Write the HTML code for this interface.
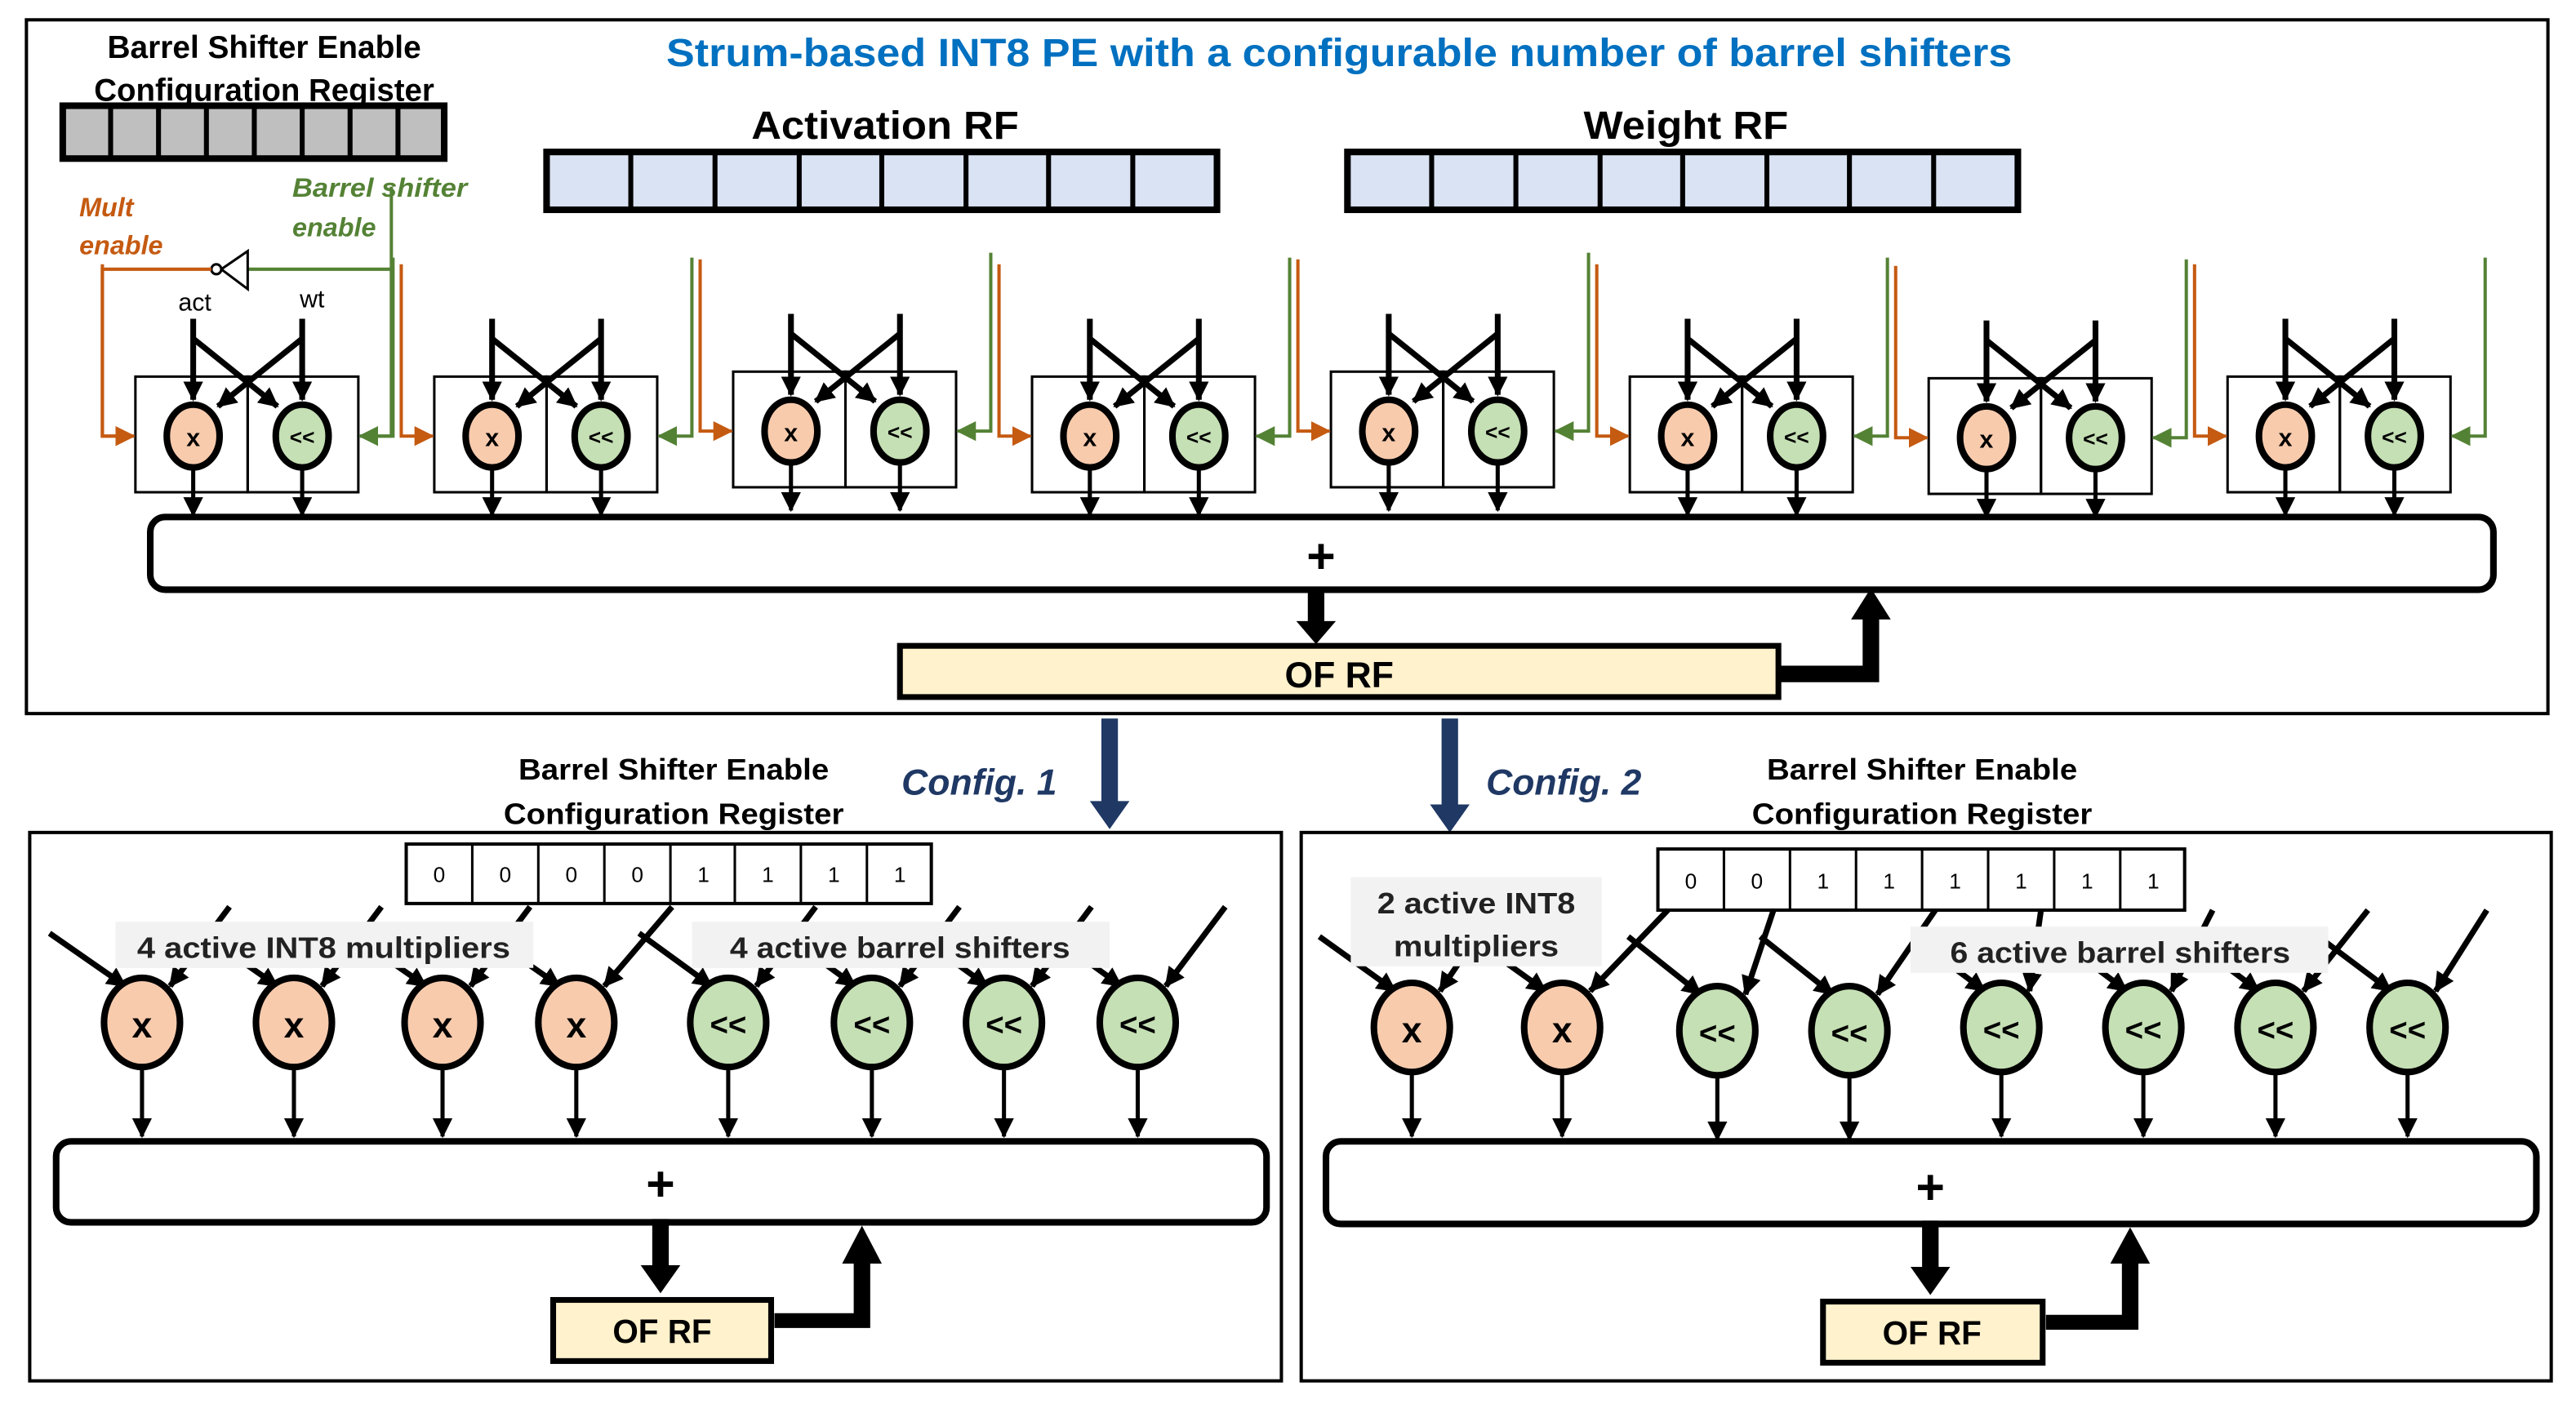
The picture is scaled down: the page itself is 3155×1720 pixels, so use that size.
<!DOCTYPE html>
<html><head><meta charset="utf-8"><style>
html,body{margin:0;padding:0;background:#fff}
svg{display:block}
text{font-family:"Liberation Sans",sans-serif}
</style></head><body>
<svg width="3155" height="1720" viewBox="0 0 1560 850" preserveAspectRatio="none" xmlns="http://www.w3.org/2000/svg">
<defs>
<marker id="ab" markerUnits="userSpaceOnUse" markerWidth="12" markerHeight="14" refX="11" refY="6" orient="auto"><path d="M0,0 L12,6 L0,12 z" fill="#000"/></marker>
<marker id="ao" markerUnits="userSpaceOnUse" markerWidth="12" markerHeight="14" refX="11" refY="6" orient="auto"><path d="M0,0 L12,6 L0,12 z" fill="#c55a11"/></marker>
<marker id="ag" markerUnits="userSpaceOnUse" markerWidth="12" markerHeight="14" refX="11" refY="6" orient="auto"><path d="M0,0 L12,6 L0,12 z" fill="#548235"/></marker>
<g id="unit">
<rect x="0" y="228" width="68" height="70" fill="none" stroke="#000" stroke-width="1.5"/>
<rect x="68" y="228" width="67" height="70" fill="none" stroke="#000" stroke-width="1.5"/>
<g stroke="#000" stroke-width="3.5" fill="none">
<line x1="35" y1="193" x2="35" y2="242" marker-end="url(#ab)"/>
<line x1="101" y1="193" x2="101" y2="242" marker-end="url(#ab)"/>
<line x1="35" y1="205" x2="86" y2="246" marker-end="url(#ab)"/>
<line x1="101" y1="205" x2="50" y2="246" marker-end="url(#ab)"/>
</g>
<g stroke="#000" stroke-width="2.5">
<line x1="35" y1="284" x2="35" y2="312" marker-end="url(#ab)"/>
<line x1="101" y1="284" x2="101" y2="312" marker-end="url(#ab)"/>
</g>
<ellipse cx="35" cy="264" rx="16" ry="19" fill="#f8cbad" stroke="#000" stroke-width="4"/>
<ellipse cx="101" cy="264" rx="16" ry="19" fill="#c5e0b4" stroke="#000" stroke-width="4"/>
<path d="M-20,160 V264 H-1" fill="none" stroke="#c55a11" stroke-width="2" marker-end="url(#ao)"/>
<path d="M156,156 V264 H136" fill="none" stroke="#548235" stroke-width="2" marker-end="url(#ag)"/>
</g>
</defs>

<rect x="16" y="12" width="1527" height="420" fill="none" stroke="#000" stroke-width="2"/>
<text x="811" y="40" text-anchor="middle" font-size="24" font-weight="bold" fill="#0070c0" textLength="815" lengthAdjust="spacingAndGlyphs">Strum-based INT8 PE with a configurable number of barrel shifters</text>
<text x="160" y="35" text-anchor="middle" font-size="19" font-weight="bold" textLength="190" lengthAdjust="spacingAndGlyphs">Barrel Shifter Enable</text>
<text x="160" y="61" text-anchor="middle" font-size="19" font-weight="bold" textLength="206" lengthAdjust="spacingAndGlyphs">Configuration Register</text>
<rect x="38" y="64" width="231" height="32" stroke="#000" stroke-width="4" fill="#bfbfbf"/>
<g stroke="#000" stroke-width="3">
<line x1="67" y1="64" x2="67" y2="96"/><line x1="96" y1="64" x2="96" y2="96"/><line x1="125" y1="64" x2="125" y2="96"/><line x1="154" y1="64" x2="154" y2="96"/><line x1="183" y1="64" x2="183" y2="96"/><line x1="212" y1="64" x2="212" y2="96"/><line x1="241" y1="64" x2="241" y2="96"/>
</g>
<text x="536" y="84" text-anchor="middle" font-size="24" font-weight="bold" textLength="162" lengthAdjust="spacingAndGlyphs">Activation RF</text>
<text x="1021" y="84" text-anchor="middle" font-size="24" font-weight="bold" textLength="124" lengthAdjust="spacingAndGlyphs">Weight RF</text>
<rect x="331" y="92" width="406" height="35" fill="#dae3f3" stroke="#000" stroke-width="4"/>
<g stroke="#000" stroke-width="3">
<line x1="382" y1="92" x2="382" y2="127"/><line x1="433" y1="92" x2="433" y2="127"/><line x1="484" y1="92" x2="484" y2="127"/><line x1="534" y1="92" x2="534" y2="127"/><line x1="585" y1="92" x2="585" y2="127"/><line x1="635" y1="92" x2="635" y2="127"/><line x1="686" y1="92" x2="686" y2="127"/>
</g>
<rect x="816" y="92" width="406" height="35" fill="#dae3f3" stroke="#000" stroke-width="4"/>
<g stroke="#000" stroke-width="3">
<line x1="867" y1="92" x2="867" y2="127"/><line x1="918" y1="92" x2="918" y2="127"/><line x1="969" y1="92" x2="969" y2="127"/><line x1="1019" y1="92" x2="1019" y2="127"/><line x1="1070" y1="92" x2="1070" y2="127"/><line x1="1120" y1="92" x2="1120" y2="127"/><line x1="1171" y1="92" x2="1171" y2="127"/>
</g>

<text x="48" y="131" font-size="16" font-style="italic" font-weight="bold" fill="#c55a11">Mult</text>
<text x="48" y="154" font-size="16" font-style="italic" font-weight="bold" fill="#c55a11">enable</text>
<text x="177" y="119" font-size="16" font-style="italic" font-weight="bold" fill="#548235" textLength="106" lengthAdjust="spacingAndGlyphs">Barrel shifter</text>
<text x="177" y="143" font-size="16" font-style="italic" font-weight="bold" fill="#548235">enable</text>
<text x="118" y="188" text-anchor="middle" font-size="15">act</text>
<text x="189" y="186" text-anchor="middle" font-size="15">wt</text>
<path d="M237,113 V163 H150" fill="none" stroke="#548235" stroke-width="2"/>
<path d="M150,152 L150,175 L134,163 Z" fill="#fff" stroke="#000" stroke-width="1.5"/>
<circle cx="131" cy="163" r="3" fill="#fff" stroke="#000" stroke-width="1.5"/>
<path d="M128,163 H62 V264 H81" fill="none" stroke="#c55a11" stroke-width="2" marker-end="url(#ao)"/>
<path d="M237,163 V264 H218" fill="none" stroke="#548235" stroke-width="2" marker-end="url(#ag)"/>

<use href="#unit" transform="translate(82,0)"/>
<use href="#unit" transform="translate(263,0)"/>
<use href="#unit" transform="translate(444,-3)"/>
<use href="#unit" transform="translate(625,0)"/>
<use href="#unit" transform="translate(806,-3)"/>
<use href="#unit" transform="translate(987,0)"/>
<use href="#unit" transform="translate(1168,1)"/>
<use href="#unit" transform="translate(1349,0)"/>
<g font-size="15" font-weight="bold" text-anchor="middle">
<text x="117" y="270">x</text><text x="183" y="269" font-size="13">&lt;&lt;</text>
<text x="298" y="270">x</text><text x="364" y="269" font-size="13">&lt;&lt;</text>
<text x="479" y="267">x</text><text x="545" y="266" font-size="13">&lt;&lt;</text>
<text x="660" y="270">x</text><text x="726" y="269" font-size="13">&lt;&lt;</text>
<text x="841" y="267">x</text><text x="907" y="266" font-size="13">&lt;&lt;</text>
<text x="1022" y="270">x</text><text x="1088" y="269" font-size="13">&lt;&lt;</text>
<text x="1203" y="271">x</text><text x="1269" y="270" font-size="13">&lt;&lt;</text>
<text x="1384" y="270">x</text><text x="1450" y="269" font-size="13">&lt;&lt;</text>
</g>

<rect x="91" y="313" width="1419" height="44" rx="9" fill="#fff" stroke="#000" stroke-width="4"/>
<text x="800" y="347" text-anchor="middle" font-size="30" font-weight="bold">+</text>
<path d="M792,357 H802 V376 H809 L797,390 L785,376 H792 Z" fill="#000"/>
<rect x="545" y="391" width="532" height="31" fill="#fff2cc" stroke="#000" stroke-width="3.5"/>
<text x="811" y="416" text-anchor="middle" font-size="22" font-weight="bold">OF RF</text>
<path d="M1077,403 H1128 V375 H1121 L1133,356 L1145,375 H1138 V413 H1077 Z" fill="#000"/>

<path d="M667,435 H677 V485 H684 L672,502 L660,485 H667 Z" fill="#1f3864"/>
<path d="M873,435 H883 V487 H890 L878,504 L866,487 H873 Z" fill="#1f3864"/>
<text x="593" y="481" text-anchor="middle" font-size="22" font-style="italic" font-weight="bold" fill="#1f3864">Config. 1</text>
<text x="947" y="481" text-anchor="middle" font-size="22" font-style="italic" font-weight="bold" fill="#1f3864">Config. 2</text>

<rect x="18" y="504" width="758" height="332" fill="none" stroke="#000" stroke-width="2"/>
<text x="408" y="472" text-anchor="middle" font-size="18" font-weight="bold" textLength="188" lengthAdjust="spacingAndGlyphs">Barrel Shifter Enable</text>
<text x="408" y="499" text-anchor="middle" font-size="18" font-weight="bold" textLength="206" lengthAdjust="spacingAndGlyphs">Configuration Register</text>
<rect x="246" y="511" width="318" height="36" fill="#fff" stroke="#000" stroke-width="2"/>
<g stroke="#000" stroke-width="1.5"><line x1="286" y1="511" x2="286" y2="547"/><line x1="326" y1="511" x2="326" y2="547"/><line x1="366" y1="511" x2="366" y2="547"/><line x1="406" y1="511" x2="406" y2="547"/><line x1="445" y1="511" x2="445" y2="547"/><line x1="485" y1="511" x2="485" y2="547"/><line x1="525" y1="511" x2="525" y2="547"/></g>
<g font-size="13" text-anchor="middle"><text x="266" y="534">0</text><text x="306" y="534">0</text><text x="346" y="534">0</text><text x="386" y="534">0</text><text x="426" y="534">1</text><text x="465" y="534">1</text><text x="505" y="534">1</text><text x="545" y="534">1</text></g>
<g stroke="#000" stroke-width="3.5">
<line x1="30" y1="565" x2="76" y2="597" marker-end="url(#ab)"/><line x1="139" y1="549" x2="103" y2="597" marker-end="url(#ab)"/>
<line x1="122" y1="565" x2="168" y2="597" marker-end="url(#ab)"/><line x1="231" y1="549" x2="195" y2="597" marker-end="url(#ab)"/>
<line x1="212" y1="565" x2="258" y2="597" marker-end="url(#ab)"/><line x1="321" y1="549" x2="285" y2="597" marker-end="url(#ab)"/>
<line x1="293" y1="565" x2="339" y2="597" marker-end="url(#ab)"/><line x1="407" y1="549" x2="366" y2="597" marker-end="url(#ab)"/>
<line x1="387" y1="565" x2="431" y2="597" marker-end="url(#ab)"/><line x1="494" y1="549" x2="458" y2="597" marker-end="url(#ab)"/>
<line x1="474" y1="565" x2="518" y2="597" marker-end="url(#ab)"/><line x1="581" y1="549" x2="545" y2="597" marker-end="url(#ab)"/>
<line x1="554" y1="565" x2="598" y2="597" marker-end="url(#ab)"/><line x1="661" y1="549" x2="625" y2="597" marker-end="url(#ab)"/>
<line x1="635" y1="565" x2="679" y2="597" marker-end="url(#ab)"/><line x1="742" y1="549" x2="706" y2="597" marker-end="url(#ab)"/>
</g>
<rect x="70" y="558" width="253" height="28" fill="#f2f2f2"/>
<text x="196" y="580" text-anchor="middle" font-size="18" font-weight="bold" fill="#222" textLength="226" lengthAdjust="spacingAndGlyphs">4 active INT8 multipliers</text>
<rect x="419" y="558" width="253" height="28" fill="#f2f2f2"/>
<text x="545" y="580" text-anchor="middle" font-size="18" font-weight="bold" fill="#222" textLength="206" lengthAdjust="spacingAndGlyphs">4 active barrel shifters</text>
<g stroke="#000" stroke-width="2.5">
<line x1="86" y1="647" x2="86" y2="688" marker-end="url(#ab)"/><line x1="178" y1="647" x2="178" y2="688" marker-end="url(#ab)"/><line x1="268" y1="647" x2="268" y2="688" marker-end="url(#ab)"/><line x1="349" y1="647" x2="349" y2="688" marker-end="url(#ab)"/><line x1="441" y1="647" x2="441" y2="688" marker-end="url(#ab)"/><line x1="528" y1="647" x2="528" y2="688" marker-end="url(#ab)"/><line x1="608" y1="647" x2="608" y2="688" marker-end="url(#ab)"/><line x1="689" y1="647" x2="689" y2="688" marker-end="url(#ab)"/>
</g>
<g stroke="#000" stroke-width="4">
<ellipse cx="86" cy="619" rx="23" ry="27" fill="#f8cbad"/><ellipse cx="178" cy="619" rx="23" ry="27" fill="#f8cbad"/><ellipse cx="268" cy="619" rx="23" ry="27" fill="#f8cbad"/><ellipse cx="349" cy="619" rx="23" ry="27" fill="#f8cbad"/>
<ellipse cx="441" cy="619" rx="23" ry="27" fill="#c5e0b4"/><ellipse cx="528" cy="619" rx="23" ry="27" fill="#c5e0b4"/><ellipse cx="608" cy="619" rx="23" ry="27" fill="#c5e0b4"/><ellipse cx="689" cy="619" rx="23" ry="27" fill="#c5e0b4"/>
</g>
<g font-size="22" font-weight="bold" text-anchor="middle">
<text x="86" y="628">x</text><text x="178" y="628">x</text><text x="268" y="628">x</text><text x="349" y="628">x</text>
<text x="441" y="627" font-size="19">&lt;&lt;</text><text x="528" y="627" font-size="19">&lt;&lt;</text><text x="608" y="627" font-size="19">&lt;&lt;</text><text x="689" y="627" font-size="19">&lt;&lt;</text>
</g>
<rect x="34" y="691" width="733" height="49" rx="9" fill="#fff" stroke="#000" stroke-width="4"/>
<text x="400" y="727" text-anchor="middle" font-size="30" font-weight="bold">+</text>
<path d="M395,738 H405 V766 H412 L400,783 L388,766 H395 Z" fill="#000"/>
<rect x="335" y="787" width="132" height="37" fill="#fff2cc" stroke="#000" stroke-width="3.5"/>
<text x="401" y="813" text-anchor="middle" font-size="20" font-weight="bold">OF RF</text>
<path d="M469,795 H517 V765 H510 L522,742 L534,765 H527 V804 H469 Z" fill="#000"/>

<rect x="788" y="504" width="757" height="332" fill="none" stroke="#000" stroke-width="2"/>
<text x="1164" y="472" text-anchor="middle" font-size="18" font-weight="bold" textLength="188" lengthAdjust="spacingAndGlyphs">Barrel Shifter Enable</text>
<text x="1164" y="499" text-anchor="middle" font-size="18" font-weight="bold" textLength="206" lengthAdjust="spacingAndGlyphs">Configuration Register</text>
<rect x="1004" y="514" width="319" height="37" fill="#fff" stroke="#000" stroke-width="2"/>
<g stroke="#000" stroke-width="1.5"><line x1="1044" y1="514" x2="1044" y2="551"/><line x1="1084" y1="514" x2="1084" y2="551"/><line x1="1124" y1="514" x2="1124" y2="551"/><line x1="1164" y1="514" x2="1164" y2="551"/><line x1="1204" y1="514" x2="1204" y2="551"/><line x1="1244" y1="514" x2="1244" y2="551"/><line x1="1284" y1="514" x2="1284" y2="551"/></g>
<g font-size="13" text-anchor="middle"><text x="1024" y="538">0</text><text x="1064" y="538">0</text><text x="1104" y="538">1</text><text x="1144" y="538">1</text><text x="1184" y="538">1</text><text x="1224" y="538">1</text><text x="1264" y="538">1</text><text x="1304" y="538">1</text></g>
<g stroke="#000" stroke-width="3.5">
<line x1="799" y1="567" x2="845" y2="600" marker-end="url(#ab)"/><line x1="905" y1="551" x2="872" y2="600" marker-end="url(#ab)"/>
<line x1="890" y1="567" x2="936" y2="600" marker-end="url(#ab)"/><line x1="1010" y1="551" x2="963" y2="600" marker-end="url(#ab)"/>
<line x1="986" y1="567" x2="1030" y2="602" marker-end="url(#ab)"/><line x1="1074" y1="551" x2="1057" y2="602" marker-end="url(#ab)"/>
<line x1="1066" y1="567" x2="1110" y2="602" marker-end="url(#ab)"/><line x1="1172" y1="551" x2="1137" y2="602" marker-end="url(#ab)"/>
<line x1="1158" y1="567" x2="1202" y2="600" marker-end="url(#ab)"/><line x1="1236" y1="551" x2="1229" y2="600" marker-end="url(#ab)"/>
<line x1="1244" y1="567" x2="1288" y2="600" marker-end="url(#ab)"/><line x1="1340" y1="551" x2="1315" y2="600" marker-end="url(#ab)"/>
<line x1="1324" y1="567" x2="1368" y2="600" marker-end="url(#ab)"/><line x1="1434" y1="551" x2="1395" y2="600" marker-end="url(#ab)"/>
<line x1="1404" y1="567" x2="1448" y2="600" marker-end="url(#ab)"/><line x1="1506" y1="551" x2="1475" y2="600" marker-end="url(#ab)"/>
</g>
<rect x="818" y="531" width="152" height="54" fill="#f2f2f2"/>
<text x="894" y="553" text-anchor="middle" font-size="18" font-weight="bold" fill="#222" textLength="120" lengthAdjust="spacingAndGlyphs">2 active INT8</text>
<text x="894" y="579" text-anchor="middle" font-size="18" font-weight="bold" fill="#222" textLength="100" lengthAdjust="spacingAndGlyphs">multipliers</text>
<rect x="1157" y="561" width="253" height="28" fill="#f2f2f2"/>
<text x="1284" y="583" text-anchor="middle" font-size="18" font-weight="bold" fill="#222" textLength="206" lengthAdjust="spacingAndGlyphs">6 active barrel shifters</text>
<g stroke="#000" stroke-width="2.5">
<line x1="855" y1="650" x2="855" y2="688" marker-end="url(#ab)"/><line x1="946" y1="650" x2="946" y2="688" marker-end="url(#ab)"/><line x1="1040" y1="650" x2="1040" y2="690" marker-end="url(#ab)"/><line x1="1120" y1="650" x2="1120" y2="690" marker-end="url(#ab)"/><line x1="1212" y1="650" x2="1212" y2="688" marker-end="url(#ab)"/><line x1="1298" y1="650" x2="1298" y2="688" marker-end="url(#ab)"/><line x1="1378" y1="650" x2="1378" y2="688" marker-end="url(#ab)"/><line x1="1458" y1="650" x2="1458" y2="688" marker-end="url(#ab)"/>
</g>
<g stroke="#000" stroke-width="4">
<ellipse cx="855" cy="622" rx="23" ry="27" fill="#f8cbad"/><ellipse cx="946" cy="622" rx="23" ry="27" fill="#f8cbad"/>
<ellipse cx="1040" cy="624" rx="23" ry="27" fill="#c5e0b4"/><ellipse cx="1120" cy="624" rx="23" ry="27" fill="#c5e0b4"/><ellipse cx="1212" cy="622" rx="23" ry="27" fill="#c5e0b4"/><ellipse cx="1298" cy="622" rx="23" ry="27" fill="#c5e0b4"/><ellipse cx="1378" cy="622" rx="23" ry="27" fill="#c5e0b4"/><ellipse cx="1458" cy="622" rx="23" ry="27" fill="#c5e0b4"/>
</g>
<g font-size="22" font-weight="bold" text-anchor="middle">
<text x="855" y="631">x</text><text x="946" y="631">x</text>
<text x="1040" y="632" font-size="19">&lt;&lt;</text><text x="1120" y="632" font-size="19">&lt;&lt;</text><text x="1212" y="630" font-size="19">&lt;&lt;</text><text x="1298" y="630" font-size="19">&lt;&lt;</text><text x="1378" y="630" font-size="19">&lt;&lt;</text><text x="1458" y="630" font-size="19">&lt;&lt;</text>
</g>
<rect x="803" y="691" width="733" height="50" rx="9" fill="#fff" stroke="#000" stroke-width="4"/>
<text x="1169" y="729" text-anchor="middle" font-size="30" font-weight="bold">+</text>
<path d="M1164,739 H1174 V767 H1181 L1169,784 L1157,767 H1164 Z" fill="#000"/>
<rect x="1104" y="788" width="133" height="37" fill="#fff2cc" stroke="#000" stroke-width="3.5"/>
<text x="1170" y="814" text-anchor="middle" font-size="20" font-weight="bold">OF RF</text>
<path d="M1239,796 H1285 V765 H1278 L1290,743 L1302,765 H1295 V805 H1239 Z" fill="#000"/>
</svg>
</body></html>
